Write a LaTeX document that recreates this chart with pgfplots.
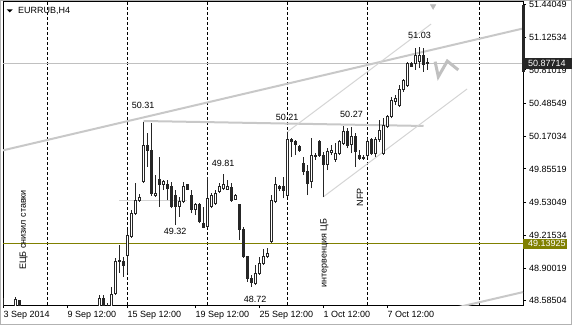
\documentclass[border=0pt]{standalone}
\usepackage{fontspec}
\setmainfont{Liberation Sans}
\usepackage{pgfplots}
\usepackage{pgfplotstable}
\pgfplotsset{compat=1.18}
\definecolor{olivel}{RGB}{128,128,0}
\definecolor{tl}{RGB}{200,200,200}
\definecolor{thinl}{RGB}{212,212,212}
\definecolor{cur}{RGB}{192,192,192}
\newcommand{\fs}{\fontsize{9pt}{10pt}\selectfont}

\pgfplotstableread{
i o h l c
0 48.52 48.61 48.45 48.48
1 48.48 48.52 48.42 48.46
2 48.46 48.50 48.40 48.48
3 48.48 48.624 48.45 48.592
4 48.585 48.59 48.46 48.50
5 48.50 48.52 48.38 48.40
6 48.40 48.45 48.30 48.33
7 48.33 48.38 48.22 48.25
8 48.25 48.30 48.15 48.20
9 48.20 48.28 48.12 48.24
10 48.24 48.32 48.18 48.29
11 48.29 48.35 48.20 48.22
12 48.22 48.26 48.10 48.14
13 48.14 48.20 48.05 48.17
14 48.17 48.25 48.12 48.22
15 48.22 48.30 48.16 48.27
16 48.27 48.33 48.20 48.24
17 48.24 48.31 48.18 48.29
18 48.29 48.38 48.25 48.35
19 48.35 48.42 48.30 48.33
20 48.33 48.40 48.28 48.38
21 48.38 48.46 48.34 48.43
22 48.43 48.50 48.38 48.41
23 48.41 48.48 48.36 48.45
24 48.45 48.640 48.40 48.611
25 48.608 48.640 48.45 48.50
26 48.50 48.56 48.45 48.52
27 48.52 48.720 48.48 48.647
28 48.656 48.997 48.640 48.961
29 48.970 49.122 48.852 48.960
30 48.961 49.009 48.816 48.920
31 49.019 49.267 48.852 49.209
32 49.202 49.460 49.190 49.428
33 49.428 49.717 49.411 49.556
34 49.550 49.614 49.537 49.582
35 49.732 50.310 49.720 50.077
36 50.077 50.202 49.877 50.031
37 50.038 50.296 49.595 49.621
38 49.595 49.797 49.588 49.621
39 49.749 49.974 49.491 49.701
40 49.701 49.749 49.652 49.733
41 49.707 49.749 49.556 49.669
42 49.684 49.732 49.476 49.491
43 49.604 49.652 49.315 49.491
44 49.491 49.588 49.395 49.540
45 49.540 49.732 49.524 49.684
46 49.701 49.710 49.652 49.659
47 49.595 49.652 49.428 49.460
48 49.460 49.524 49.411 49.508
49 49.508 49.524 49.331 49.347
50 49.331 49.491 49.283 49.293
51 49.299 49.781 49.283 49.572
52 49.491 49.621 49.476 49.604
53 49.524 49.652 49.508 49.621
54 49.636 49.717 49.621 49.684
55 49.669 49.810 49.652 49.701
56 49.659 49.749 49.652 49.684
57 49.678 49.717 49.540 49.556
58 49.563 49.614 49.556 49.604
59 49.508 49.520 49.170 49.267
60 49.267 49.299 49.000 49.009
61 49.009 49.020 48.768 48.801
62 48.801 48.833 48.720 48.759
63 48.753 48.929 48.736 48.849
64 48.849 49.009 48.833 48.946
65 48.946 49.081 48.929 49.009
66 49.009 49.090 48.994 49.042
67 49.154 49.600 49.141 49.556
68 49.540 49.781 49.524 49.701
69 49.690 49.700 49.640 49.669
70 49.684 49.781 49.572 49.652
71 49.604 50.210 49.588 50.135
72 50.141 50.154 49.974 50.125
73 50.118 50.135 49.990 50.087
74 50.070 50.087 50.022 50.038
75 49.910 49.974 49.797 49.829
76 49.829 49.894 49.604 49.717
77 49.732 50.151 49.669 49.990
78 49.974 50.006 49.942 49.990
79 50.118 50.135 49.974 49.990
80 49.990 50.022 49.588 49.894
81 49.894 50.055 49.845 50.022
82 50.012 50.087 49.990 50.032
83 49.942 50.103 49.925 50.006
84 50.006 50.135 49.990 50.118
85 50.103 50.270 50.087 50.215
86 50.215 50.247 50.055 50.077
87 50.087 50.263 50.006 50.166
88 50.166 50.202 49.877 50.022
89 49.990 50.038 49.942 49.958
90 49.968 49.990 49.942 49.954
91 49.990 50.151 49.958 50.118
92 50.135 50.151 49.990 50.006
93 50.006 50.161 49.974 50.135
94 50.135 50.328 50.118 50.231
95 50.006 50.344 49.990 50.279
96 50.263 50.376 50.247 50.359
97 50.359 50.552 50.344 50.520
98 50.504 50.569 50.472 50.537
99 50.472 50.665 50.456 50.617
100 50.617 50.720 50.600 50.713
101 50.665 50.890 50.649 50.874
102 50.874 50.890 50.841 50.848
103 50.874 51.019 50.810 50.954
104 50.890 51.030 50.826 50.954
105 50.954 51.019 50.793 50.858
106 50.885 50.925 50.810 50.877
}\candles

\begin{document}
\begin{tikzpicture}[x=1pt,y=1pt]
\path[use as bounding box] (0,0) rectangle (572,325);
\draw[gray!60, line width=1pt] (0.5,0.5) rectangle (571.5,324.5);
\begin{axis}[
  at={(3pt,20pt)}, anchor=south west,
  scale only axis, width=520pt, height=303pt,
  xmin=-0.125, xmax=129.875, ymin=48.54357, ymax=51.46546,
  clip mode=individual,
  axis line style={black,line width=1pt},
  xtick={0,16,31,48,64,80,96},
  xticklabels={3 Sep 2014,9 Sep 12:00,15 Sep 12:00,19 Sep 12:00,25 Sep 12:00,1 Oct 12:00,7 Oct 12:00},
  xtick pos=left, ytick pos=right, yticklabel pos=right,
  ytick={48.58504,48.90019,49.21534,49.53049,49.85519,50.17034,50.48549,50.81019,51.12534,51.44049},
  yticklabels={48.58504,48.90019,49.21534,49.53049,49.85519,50.17034,50.48549,50.81019,51.12534,51.44049},
  tick align=outside, major tick length=3pt,
  tick style={black, line width=1pt},
  xticklabel style={font=\fs, anchor=north west, inner sep=0pt, yshift=-3pt},
  yticklabel style={font=\fs, anchor=west, inner sep=0pt, xshift=3pt},
  minor tick num=0,
]
% period separators
\foreach \s in {11,31,51,71,91,119} {
  \edef\tmp{\noexpand\addplot[black, line width=1pt, dash pattern=on 3pt off 2pt] coordinates {(\s,48.4) (\s,51.6)};}
  \tmp
}
% horizontal lines
\addplot[olivel, line width=1pt] coordinates {(-1,49.13925) (131,49.13925)};
\addplot[cur, line width=1pt] coordinates {(-1,50.87714) (131,50.87714)};
% trend lines
\addplot[tl, line width=2pt] coordinates {(-0.125,50.035) (129.875,51.21)};
\addplot[tl, line width=2pt] coordinates {(110,48.49) (129.875,48.668)};
\addplot[tl, line width=2pt] coordinates {(35,50.318) (105,50.27)};
\addplot[thinl, line width=1pt] coordinates {(28.9,49.551) (45.9,49.551)};
\addplot[thinl, line width=1pt] coordinates {(70.9,50.212) (106.9,51.253)};
\addplot[thinl, line width=1pt] coordinates {(79.9,49.585) (115.9,50.627)};
% arrow object
\addplot[cur, line width=3pt] coordinates {(107.9,50.890) (108.7,50.745) (110.95,50.896) (113.7,50.810)};
\addplot[only marks, mark=triangle*, mark size=3.2pt, mark options={rotate=180, fill=gray!55, draw=gray!55}] coordinates {(107.4,51.425)};
% candles
\pgfplotstablegetrowsof{\candles}
\pgfmathtruncatemacro\lastrow{\pgfplotsretval-1}
\pgfplotsforeachungrouped \r in {0,...,\lastrow}{%
  \pgfplotstablegetelem{\r}{i}\of\candles\let\ci\pgfplotsretval
  \pgfplotstablegetelem{\r}{o}\of\candles\let\co\pgfplotsretval
  \pgfplotstablegetelem{\r}{h}\of\candles\let\ch\pgfplotsretval
  \pgfplotstablegetelem{\r}{l}\of\candles\let\cl\pgfplotsretval
  \pgfplotstablegetelem{\r}{c}\of\candles\let\cc\pgfplotsretval
  \pgfmathsetmacro\xa{\ci-0.25}%
  \pgfmathsetmacro\xb{\ci+0.25}%
  \pgfmathparse{\cc>=\co ? 1 : 0}%
  \ifdim\pgfmathresult pt>0.5pt \def\fc{white}\else\def\fc{black!85}\fi
  \edef\tmp{\noexpand\addplot[black!85,line width=1pt] coordinates {(\ci,\cl) (\ci,\ch)};
    \noexpand\addplot[draw=black!85,fill=\fc,line width=1pt] coordinates {(\xa,\co) (\xb,\co) (\xb,\cc) (\xa,\cc)} -- cycle;}%
  \tmp
}
% price labels
\node[font=\fs] at (axis cs:34.9,50.464) {50.31};
\node[font=\fs] at (axis cs:42.9,49.250) {49.32};
\node[font=\fs] at (axis cs:54.9,49.913) {49.81};
\node[font=\fs] at (axis cs:62.9,48.601) {48.72};
\node[font=\fs] at (axis cs:70.9,50.356) {50.21};
\node[font=\fs] at (axis cs:87.0,50.384) {50.27};
\node[font=\fs] at (axis cs:104.0,51.139) {51.03};
\node[font=\fs, rotate=90] at (axis cs:5.07,49.267) {ЕЦБ снизил ставки};
\node[font=\fs, rotate=90] at (axis cs:80.25,49.045) {интервенция ЦБ};
\node[font=\fs, rotate=90] at (axis cs:89.1,49.585) {NFP};
\end{axis}
% title
\fill[black] (6.7,315.7) -- (12.7,315.7) -- (9.7,312.7) -- cycle;
\node[font=\fs, anchor=west, inner sep=0pt] at (18,314.5) {EURRUB,H4};
% price boxes on the scale
\fill[black!85] (523,267.5) rectangle (572,256.5);
\node[font=\fs, text=white, anchor=west, inner sep=0pt] at (528,262) {50.87714};
\fill[olivel] (523,86.5) rectangle (567,76);
\node[font=\fs, text=white, anchor=west, inner sep=0pt] at (528,81.2) {49.13925};
\draw[black!85, line width=2.5pt] (523.5,320) -- (523.5,253);
\end{tikzpicture}
\end{document}
